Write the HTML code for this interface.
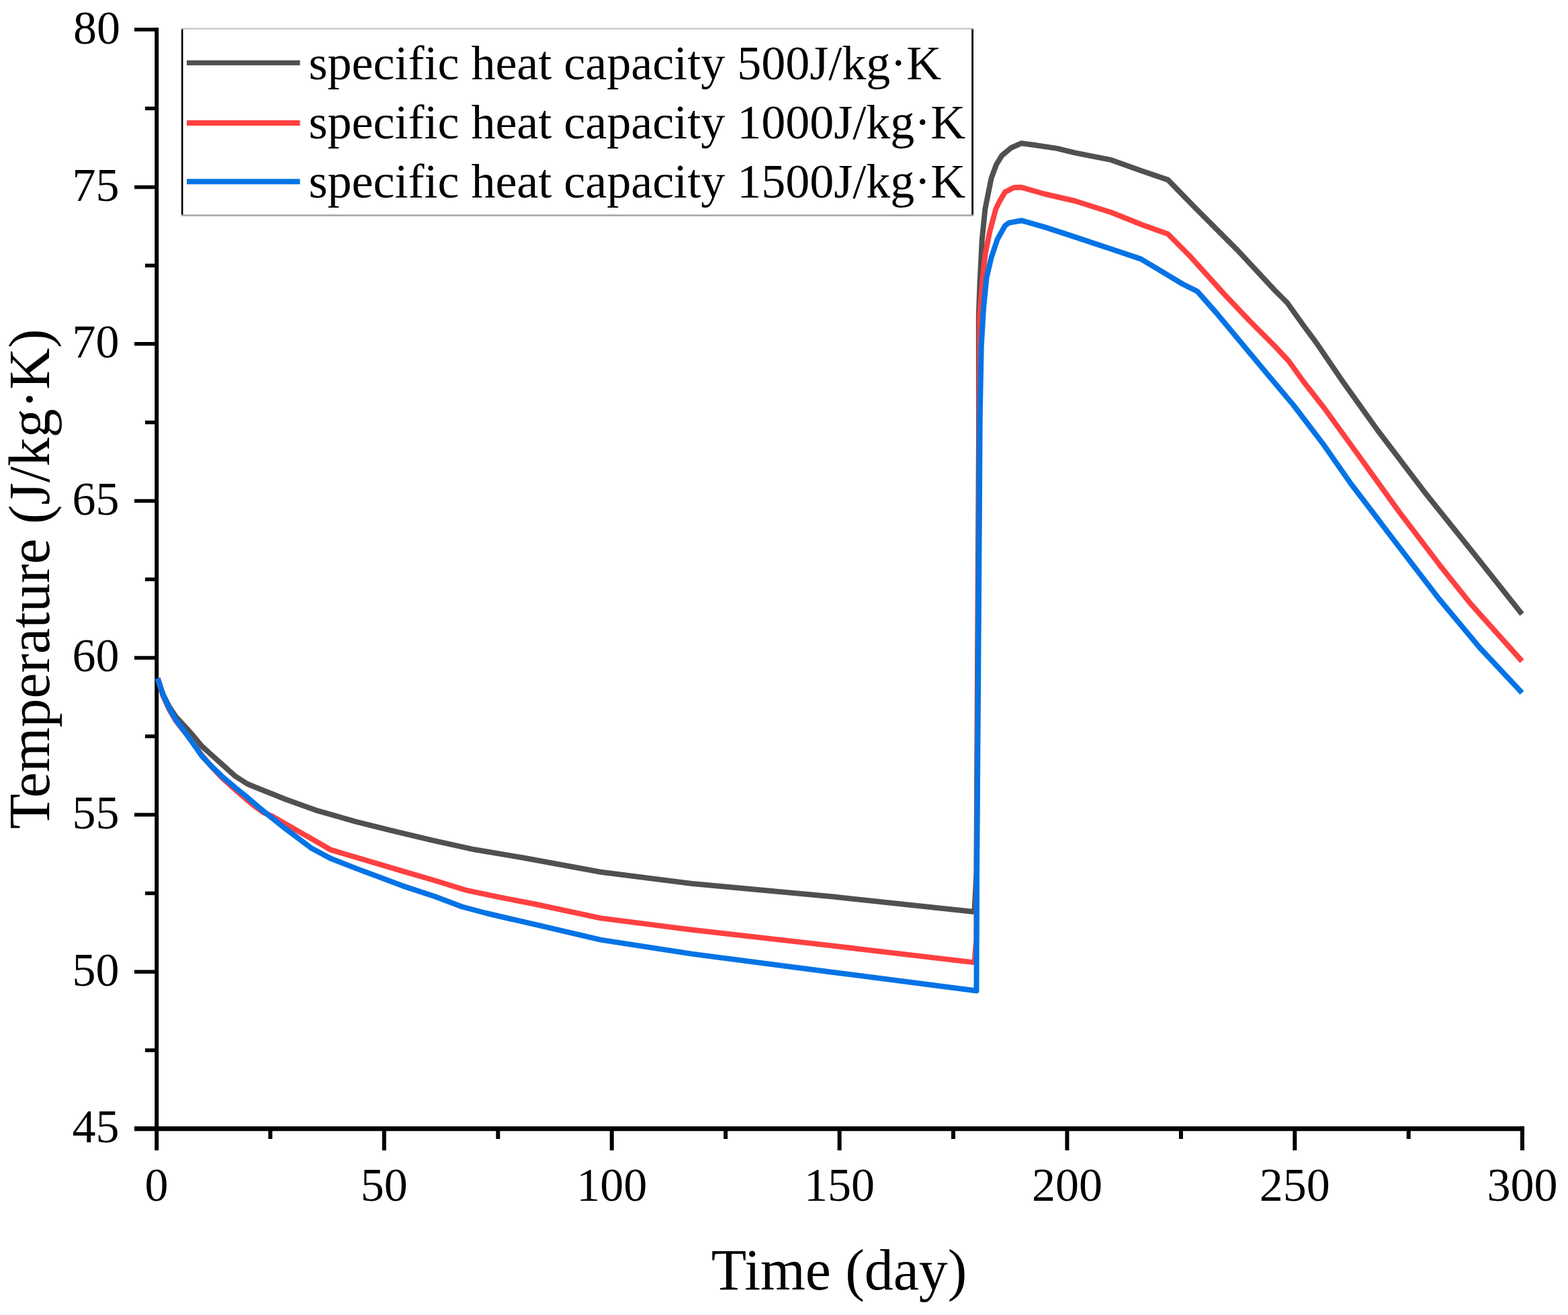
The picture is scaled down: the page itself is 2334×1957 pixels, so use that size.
<!DOCTYPE html>
<html>
<head>
<meta charset="utf-8">
<title>Temperature vs Time</title>
<style>
html, body { margin: 0; padding: 0; background: #ffffff; }
body { width: 2334px; height: 1957px; overflow: hidden; }
svg { display: block; }
text { font-family: "Liberation Serif", "Times New Roman", serif; fill: #000; }
</style>
</head>
<body>
<svg width="2334" height="1957" viewBox="0 0 2334 1957">
  <rect x="0" y="0" width="2334" height="1957" fill="#ffffff"/>

  <!-- axes -->
  <g stroke="#000" stroke-width="6" fill="none" stroke-linecap="butt">
    <line x1="233.2" y1="41.5" x2="233.2" y2="1712"/>
    <line x1="200" y1="1679.7" x2="2269" y2="1679.7" stroke-width="7"/>
  </g>

  <!-- y ticks -->
  <g stroke="#000" stroke-width="5.5" fill="none">
    <line x1="200" y1="44" x2="236" y2="44"/>
    <line x1="216" y1="161.4" x2="233" y2="161.4"/>
    <line x1="200" y1="278.6" x2="233" y2="278.6"/>
    <line x1="216" y1="395.2" x2="233" y2="395.2"/>
    <line x1="200" y1="511.8" x2="233" y2="511.8"/>
    <line x1="216" y1="628.6" x2="233" y2="628.6"/>
    <line x1="200" y1="745.4" x2="233" y2="745.4"/>
    <line x1="216" y1="862.2" x2="233" y2="862.2"/>
    <line x1="200" y1="979" x2="233" y2="979"/>
    <line x1="216" y1="1095.8" x2="233" y2="1095.8"/>
    <line x1="200" y1="1212.6" x2="233" y2="1212.6"/>
    <line x1="216" y1="1329.4" x2="233" y2="1329.4"/>
    <line x1="200" y1="1446.2" x2="233" y2="1446.2"/>
    <line x1="216" y1="1563" x2="233" y2="1563"/>
  </g>

  <!-- x ticks -->
  <g stroke="#000" stroke-width="6" fill="none">
    <line x1="402.4" y1="1679.5" x2="402.4" y2="1695"/>
    <line x1="571.8" y1="1679.5" x2="571.8" y2="1712"/>
    <line x1="741.3" y1="1679.5" x2="741.3" y2="1695"/>
    <line x1="910.7" y1="1679.5" x2="910.7" y2="1712"/>
    <line x1="1080.1" y1="1679.5" x2="1080.1" y2="1695"/>
    <line x1="1249.6" y1="1679.5" x2="1249.6" y2="1712"/>
    <line x1="1419" y1="1679.5" x2="1419" y2="1695"/>
    <line x1="1588.4" y1="1679.5" x2="1588.4" y2="1712"/>
    <line x1="1757.9" y1="1679.5" x2="1757.9" y2="1695"/>
    <line x1="1927.3" y1="1679.5" x2="1927.3" y2="1712"/>
    <line x1="2096.7" y1="1679.5" x2="2096.7" y2="1695"/>
    <line x1="2266" y1="1676.5" x2="2266" y2="1712"/>
  </g>

  <!-- y tick labels -->
  <g font-size="70" text-anchor="end">
    <text x="179" y="64.5">80</text>
    <text x="177.5" y="299">75</text>
    <text x="177.5" y="532">70</text>
    <text x="177.5" y="766">65</text>
    <text x="177.5" y="999">60</text>
    <text x="177.5" y="1233">55</text>
    <text x="177.5" y="1467">50</text>
    <text x="177.5" y="1700">45</text>
  </g>

  <!-- x tick labels -->
  <g font-size="70" text-anchor="middle">
    <text x="233" y="1787">0</text>
    <text x="571.8" y="1787">50</text>
    <text x="910.7" y="1787">100</text>
    <text x="1249.6" y="1787">150</text>
    <text x="1588.4" y="1787">200</text>
    <text x="1927.3" y="1787">250</text>
    <text x="2266" y="1787">300</text>
  </g>

  <!-- axis titles -->
  <text x="1249" y="1919.3" font-size="85.8" text-anchor="middle">Time (day)</text>
  <text transform="translate(72.8 861.5) rotate(-90)" font-size="85.8" text-anchor="middle">Temperature (J/kg·K)</text>

  <!-- CURVES -->
  <g fill="none" stroke-width="8" stroke-linejoin="round" stroke-linecap="butt">
    <polyline stroke="#505050" points="234.5,1010 242.5,1033 252,1052 262,1067 276,1082 288,1095.5 300,1110 315,1123.6 330,1137 350,1155 368,1166.5 380,1171.5 425,1189.5 473,1206.7 530,1222.9 582,1235.8 644,1250.7 706,1264.3 780,1276.7 894,1297.7 1030,1315 1238,1334.3 1450.5,1357 1453.4,1300 1455,1000 1457,650 1456.8,470 1458.4,424.5 1461.8,356.4 1466.4,311 1475.5,265.5 1483,245 1491.4,231.4 1505,220 1520.5,213.2 1539.2,215.8 1573.3,220.9 1600,227.3 1654.5,238.2 1700,254.5 1738.5,267.6 1781.3,311.5 1842.6,372.9 1897.5,432 1916,450.5 1940,484 1960,511 2000,569.7 2050,639.5 2120,731.7 2200,831.5 2265.5,914"/>
    <polyline stroke="#ff4040" points="234.8,1009.5 242.5,1035 252,1056 262,1073 273.4,1087.5 285.9,1103.5 300.4,1124 315,1141 330,1157 350,1175 365,1188 378,1199 392,1209 406,1215.2 444.3,1237.1 482.4,1259 491.4,1264.3 520,1273 600,1296.7 647.6,1310.5 695.2,1325.2 742.9,1335.2 800,1346.2 894,1366.4 1030,1383.7 1238,1407.4 1450.5,1432.4 1453.2,1400 1455.6,1000 1457.8,700 1458,560 1458.4,470 1461.8,424.5 1466.4,379 1473.2,345 1482.3,311 1488.1,299.3 1496,285.9 1509.5,279 1520.5,278.8 1556.3,289 1600,299 1654.5,316.3 1700,334.5 1738.5,348.3 1771.1,381 1822.5,438 1860,477.5 1897.5,515 1918,537 1940,567.5 1970.9,607 2021,676 2082.6,761.6 2142.6,840.4 2187.4,896.6 2265.5,984"/>
    <polyline stroke="#0373e5" points="234.8,1009.5 242.5,1033.8 252.1,1054.1 261.8,1071.4 273.4,1086.9 285.9,1104.2 300.4,1125 314.9,1140.5 330,1155 350,1172 365,1184 387,1203 425,1233.3 463,1261.9 492,1277.5 530,1292.4 600,1318.6 647.6,1334.3 688,1349.5 723.8,1359 762,1368 800,1376.7 894,1398.6 1030,1419.6 1238,1446.7 1453.5,1474.5 1454,1300 1456.2,1000 1458.7,620 1460.7,515.5 1464,458.6 1468.6,413.2 1475.5,383.6 1484.5,356.4 1496,335.9 1501.8,331.6 1520.5,328.2 1556.3,338.4 1600,352.6 1654.5,370.8 1698.1,385.4 1720,398.4 1760,422.5 1782.5,433.8 1810,465 1885,555 1925.4,603 1970.9,662.7 2010.9,720 2041.5,760 2080,810.7 2141.3,890.4 2202.7,964 2265.5,1031"/>
  </g>

  <!-- legend -->
  <g>
    <rect x="271" y="42.5" width="1176" height="278" fill="#fff" stroke="none"/>
    <line x1="270" y1="42.6" x2="1449" y2="42.6" stroke="#c4c4c4" stroke-width="2.4"/>
    <line x1="270" y1="320.5" x2="1449" y2="320.5" stroke="#a4a4a4" stroke-width="2.6"/>
    <line x1="271.2" y1="43.5" x2="271.2" y2="319.5" stroke="#000" stroke-width="2.6"/>
    <line x1="1447.6" y1="43.5" x2="1447.6" y2="319.5" stroke="#000" stroke-width="2.8"/>
    <line x1="278" y1="93.5" x2="446.5" y2="93.5" stroke="#505050" stroke-width="7.5"/>
    <line x1="278" y1="183" x2="446.5" y2="183" stroke="#ff4040" stroke-width="8"/>
    <line x1="278" y1="270.3" x2="446.5" y2="270.3" stroke="#0373e5" stroke-width="8"/>
    <g font-size="72">
      <text x="459.5" y="117.5">specific heat capacity 500J/kg·K</text>
      <text x="459.5" y="205.5">specific heat capacity 1000J/kg·K</text>
      <text x="459.5" y="293.5">specific heat capacity 1500J/kg·K</text>
    </g>
  </g>
</svg>
</body>
</html>
